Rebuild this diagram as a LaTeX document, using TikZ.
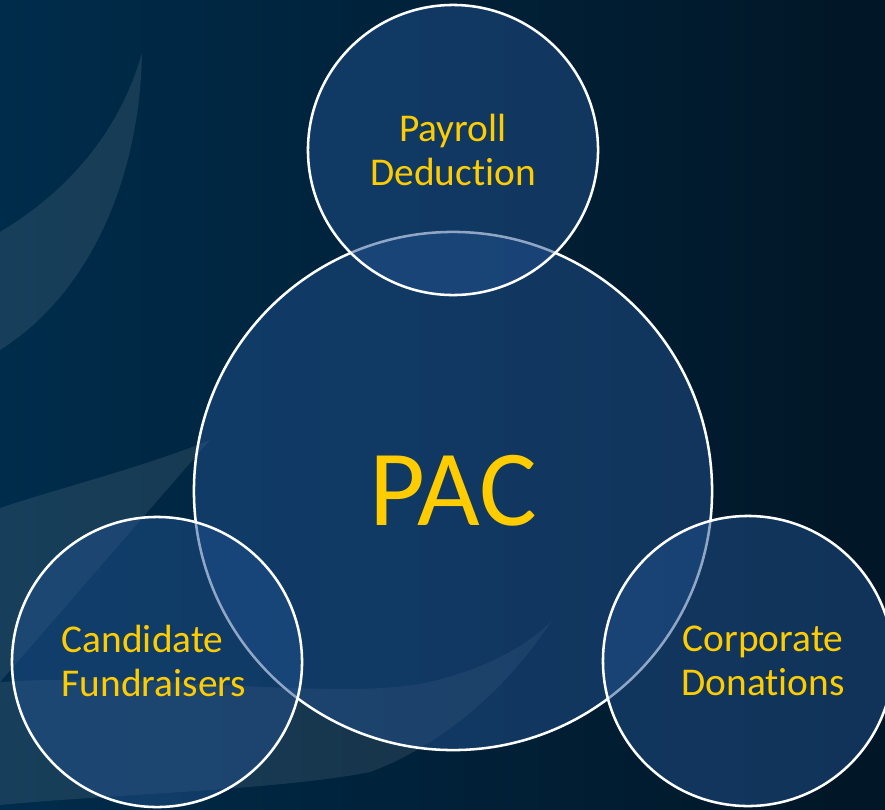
\documentclass[tikz,border=0pt]{standalone}
\usepackage{fontspec}
\setmainfont{Carlito}[Ligatures=NoCommon]
\definecolor{navyleft}{RGB}{0,44,75}
\definecolor{navyright}{RGB}{1,22,38}
\definecolor{bubblefill}{RGB}{33,80,140}
\definecolor{pacgold}{RGB}{255,204,0}

\begin{document}
\begin{tikzpicture}[
    x=0.025cm, y=-0.025cm,
    bubble/.style={circle, draw=white, line width=1.8pt, fill=bubblefill,
        fill opacity=0.5, inner sep=0pt},
    bubbletext/.style={text=pacgold, align=center,
        font=\fontsize{28pt}{31.3pt}\selectfont},
    swoosh/.style={fill=white, fill opacity=0.09},
]
    \useasboundingbox (0,0) rectangle (885,809);
    \clip (0,0) rectangle (885,809);
    % background
    \fill[left color=navyleft, right color=navyright] (0,0) rectangle (885,809);
    \fill[swoosh] (142,53) .. controls (120,130) and (70,190) .. (0,232)
        -- (0,350) .. controls (95,290) and (140,170) .. (142,53) -- cycle;
    \fill[swoosh] (210,440) .. controls (150,465) and (60,488) .. (0,508)
        -- (0,682) -- (210,440) -- cycle;
    \fill[swoosh] (0,682) .. controls (150,672) and (320,700) .. (420,684)
        .. controls (480,672) and (530,645) .. (552,620)
        .. controls (500,700) and (430,750) .. (370,772)
        .. controls (280,790) and (100,795) .. (0,805) -- cycle;

    % circles
    \node[bubble, minimum size=12.95cm] (pac) at (453,491) {};
    \node[bubble, minimum size=7.25cm] (payroll) at (453,150) {};
    \node[bubble, minimum size=7.25cm] (candidate) at (157,662) {};
    \node[bubble, minimum size=7.25cm] (corporate) at (748,661) {};

    % labels
    \node[text=pacgold, font=\fontsize{77pt}{80pt}\selectfont] (pactext) at (pac) {PAC};
    \node[bubbletext] (payrolltext) at (453,150) {Payroll\\Deduction};
    \node[bubbletext, align=left] (candidatetext) at (154,661) {Candidate\\Fundraisers};
    \node[bubbletext] (corporatetext) at (763,661) {Corporate\\Donations};
\end{tikzpicture}
\end{document}
